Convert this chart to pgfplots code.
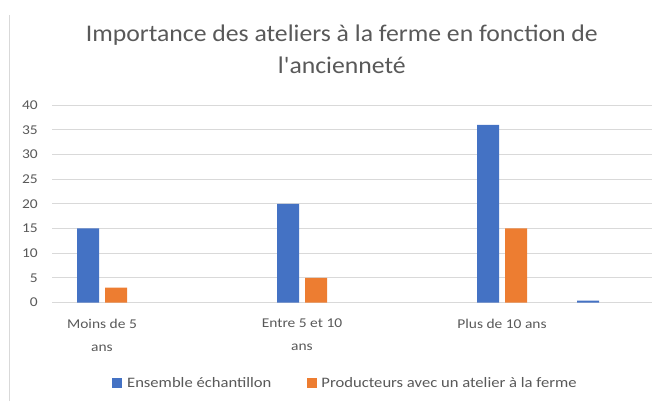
\documentclass[border=0pt]{standalone}
\usepackage{fontspec}
\setmainfont{Carlito}
\newfontfamily\chartfont[FakeStretch=1.15]{Carlito}
\newfontfamily\titlefont[FakeStretch=1.075,Ligatures=TeXOff]{Carlito}
\usepackage{pgfplots}
\pgfplotsset{compat=1.18}
\definecolor{cblue}{HTML}{4472C4}
\definecolor{corange}{HTML}{ED7D31}
\definecolor{tgray}{HTML}{595959}
\definecolor{ggray}{HTML}{D9D9D9}
\begin{document}
\begin{tikzpicture}[x=1bp,y=1bp]
\useasboundingbox (0,0) rectangle (660,401);
\draw[ggray, line width=1bp] (9,0) -- (9,386);
\begin{axis}[
  at={(52bp,98.5bp)}, anchor=south west,
  scale only axis, width=600bp, height=197.5bp,
  xmin=0.5, xmax=6.5, ymin=0, ymax=40,
  ybar, bar width=0.22,
  axis line style={draw=none},
  ymajorgrids, grid style={ggray, line width=0.9bp},
  ytick={0,5,...,40},
  xtick={1,3,5},
  xticklabels={{Moins de 5\\ans},{Entre 5 et 10\\ans},{Plus de 10 ans}},
  major tick length=0pt,
  tick label style={font=\chartfont\fontsize{13.5}{23}\selectfont, text=tgray},
  xticklabel style={align=center, anchor=north, inner sep=0pt, yshift=-16.5bp},
  yticklabel style={anchor=east, inner sep=0pt, xshift=-14bp},
  /pgf/number format/assume math mode=true,
  title={Importance des ateliers à la ferme en fonction de\\l'ancienneté},
  title style={at={(0.483,1.253)}, anchor=center, align=center,
    font=\titlefont\fontsize{24}{32}\selectfont, text=tgray},
  legend columns=2,
  legend style={at={(0.489,-0.41)}, anchor=center, draw=none,
    font=\chartfont\fontsize{14.5}{16}\selectfont, text=tgray,
    /tikz/every even column/.append style={column sep=33bp}},
  legend image code/.code={\fill[#1] (0bp,-5bp) rectangle (10bp,5bp);},
]
\addplot[fill=cblue, draw=none, bar shift=-0.14] coordinates {(1,15) (3,20) (5,36) (6,0.4)};
\addplot[fill=corange, draw=none, bar shift=0.14] coordinates {(1,3) (3,5) (5,15)};
\legend{\hspace{3bp}Ensemble échantillon, \hspace{3bp}Producteurs avec un atelier à la ferme}
\end{axis}
\end{tikzpicture}
\end{document}
